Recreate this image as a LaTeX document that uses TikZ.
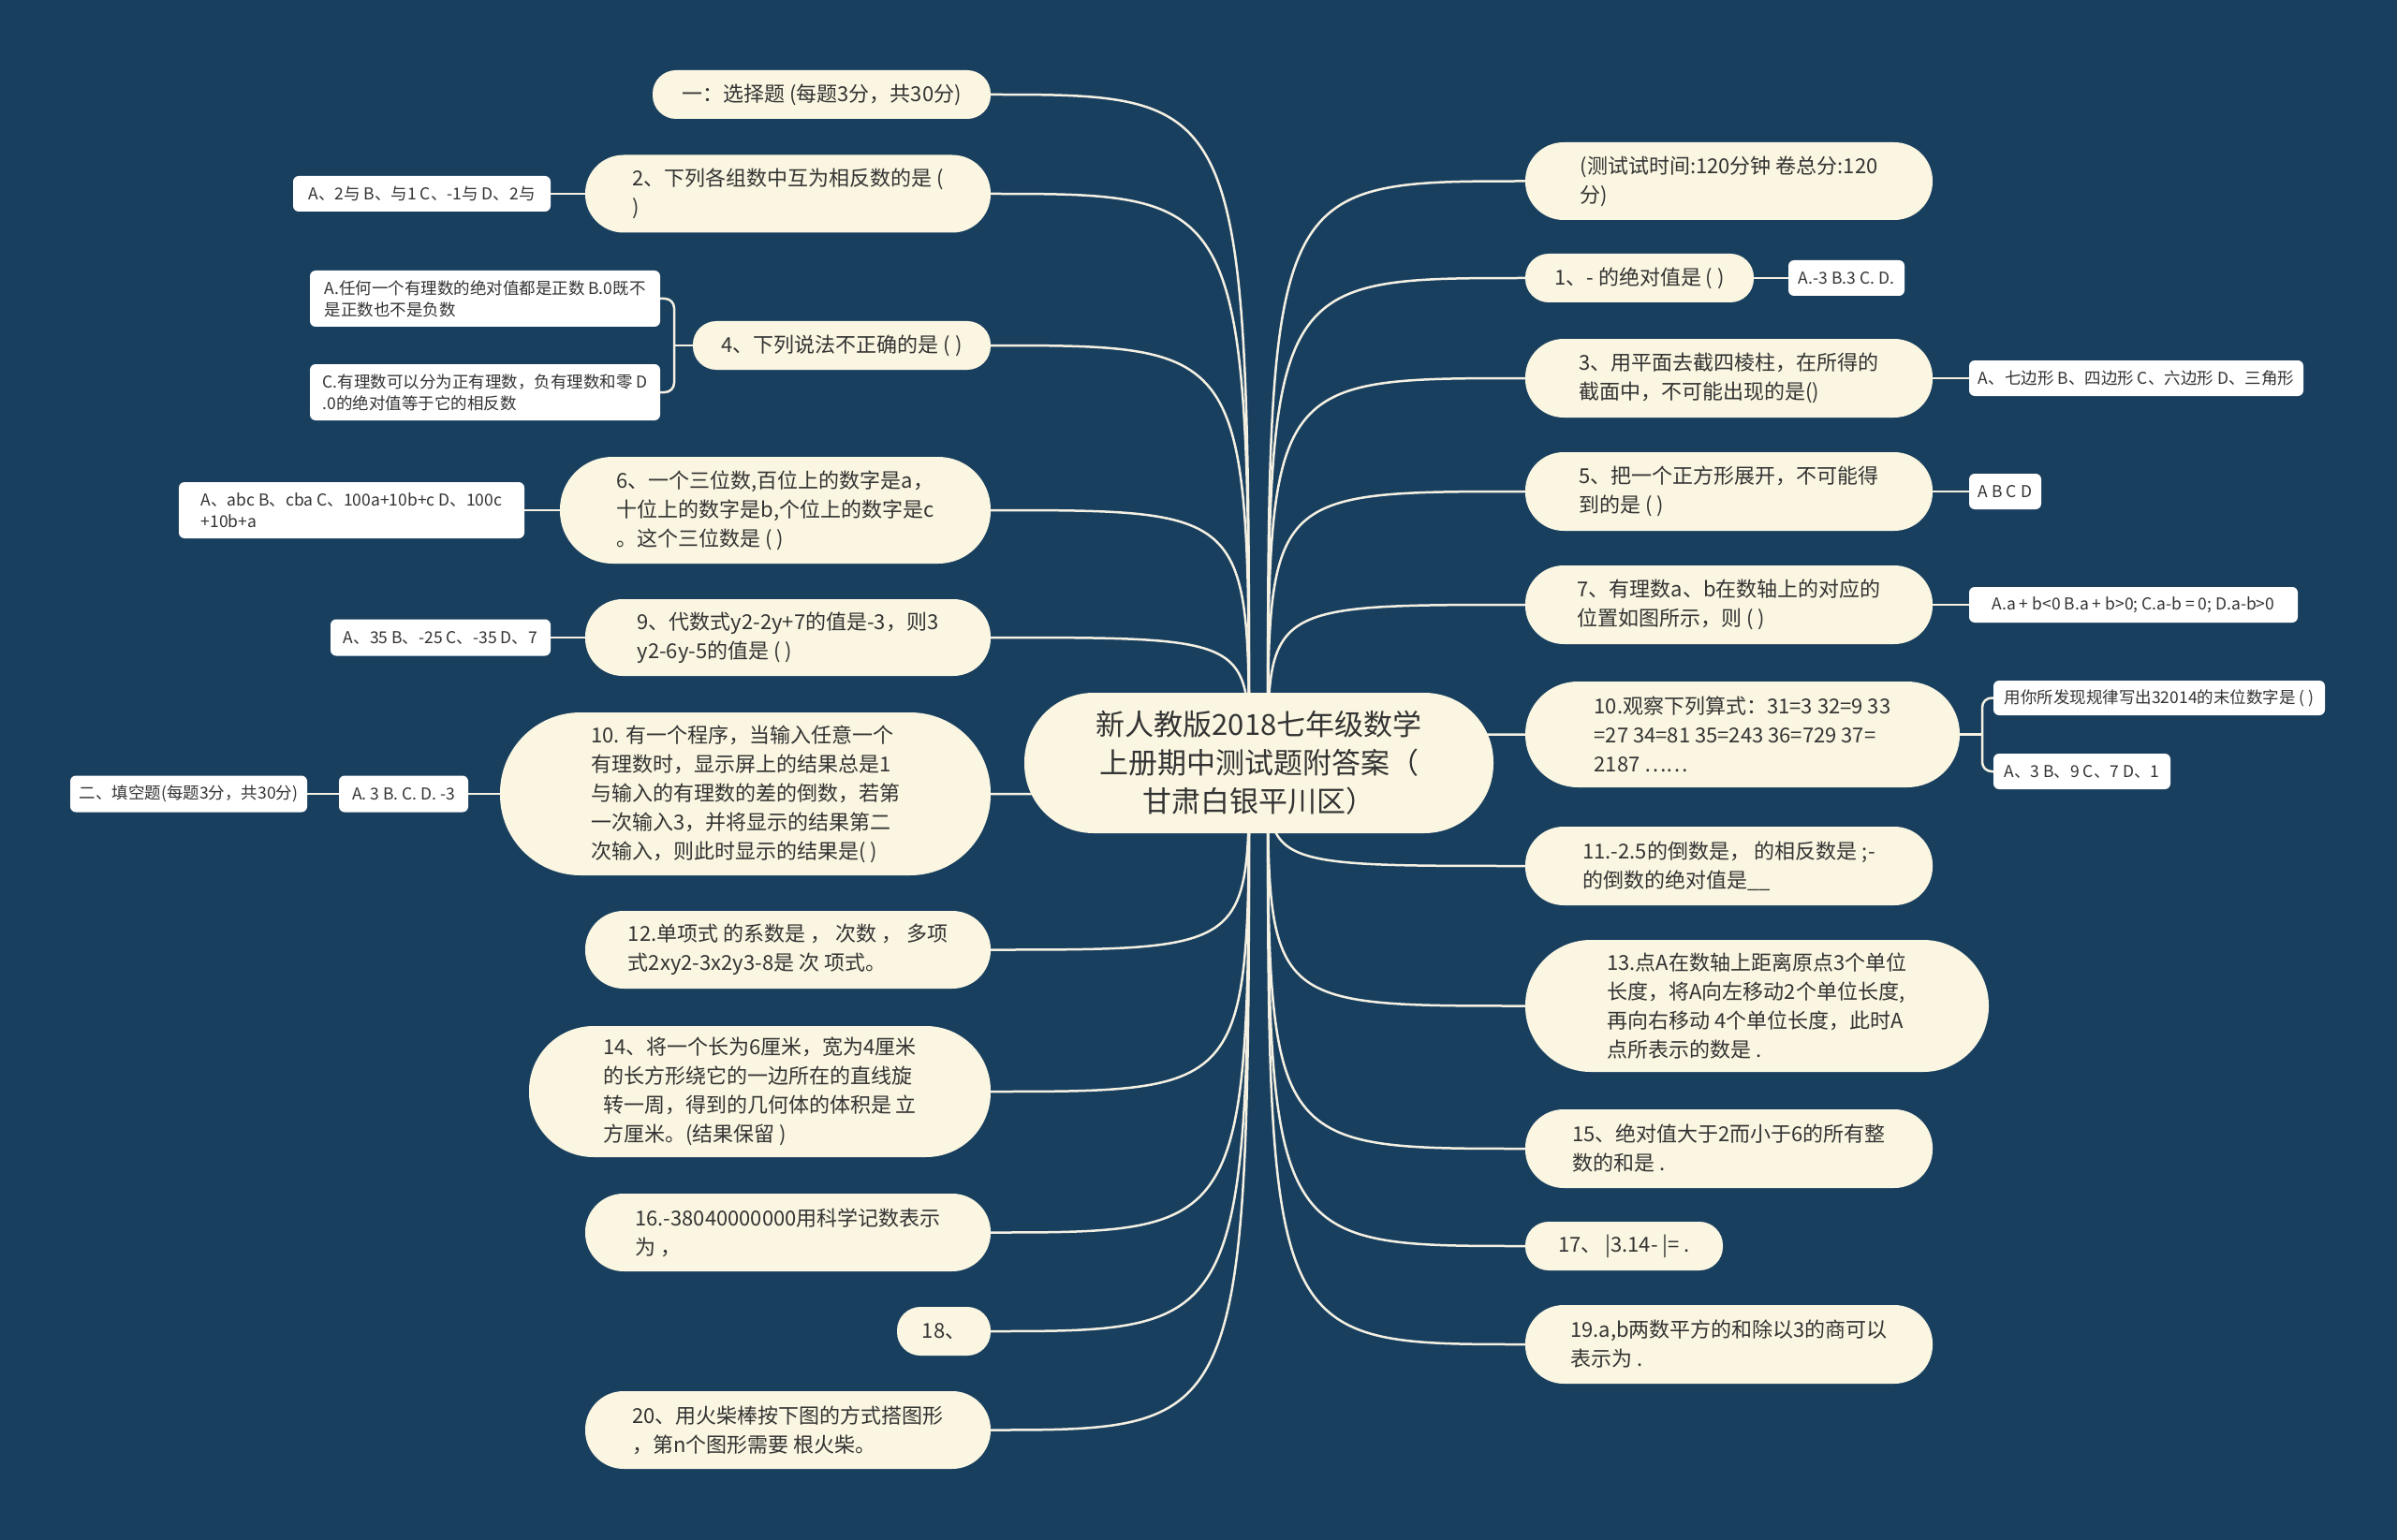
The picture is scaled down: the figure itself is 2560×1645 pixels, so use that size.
\documentclass[tikz,border=0pt]{standalone}
\usepackage{fontspec}
\setmainfont{Noto Sans CJK SC}
\usetikzlibrary{calc}
\definecolor{bgc}{HTML}{193F5F}
\definecolor{nodec}{HTML}{FAF6E1}
\definecolor{txtc}{HTML}{333333}
\definecolor{linec}{HTML}{F4F0E2}
\pgfdeclarelayer{back}
\pgfdeclarelayer{bg}
\pgfsetlayers{back,bg,main}
\tikzset{
  rootbox/.style={fill=nodec, text=txtc, align=center, inner sep=0pt, outer sep=0pt,
    font=\fontsize{31}{41}\selectfont, minimum width=501pt, minimum height=150pt, rounded corners=74pt},
  pri/.style={fill=nodec, text=txtc, align=left, inner sep=0pt, outer sep=0pt,
    font=\fontsize{22}{31}\selectfont},
  leaf/.style={fill=white, text=txtc, align=left, inner sep=0pt, outer sep=0pt,
    rounded corners=6pt, font=\fontsize{17.5}{23}\selectfont},
  conn/.style={draw=linec, line width=2.5pt},
}
\begin{document}
\begin{tikzpicture}[x=1pt,y=-1pt]
\begin{pgfonlayer}{back}
\fill[bgc] (0,0) rectangle (2560,1645);
\end{pgfonlayer}
\useasboundingbox (0,0) rectangle (2560,1645);

% root
\node[rootbox] (root) at (1344.5,815) {新人教版2018七年级数学\\上册期中测试题附答案（\\甘肃白银平川区）};
\coordinate (hubL) at (1334,815);
\coordinate (hubR) at (1354,815);

% left primary nodes
\node[pri, minimum width=361pt, minimum height=52pt, rounded corners=25pt] (L1) at (877.5,101) {一：选择题 (每题3分，共30分)};
\node[pri, minimum width=433pt, minimum height=83pt, rounded corners=41pt] (L2) at (841.5,207) {2、下列各组数中互为相反数的是 (\\)};
\node[pri, minimum width=318pt, minimum height=52pt, rounded corners=25pt] (L3) at (899,369) {4、下列说法不正确的是 ( )};
\node[pri, minimum width=460pt, minimum height=114pt, rounded corners=56pt] (L4) at (828,545) {6、一个三位数,百位上的数字是a，\\十位上的数字是b,个位上的数字是c\\。这个三位数是 ( )};
\node[pri, minimum width=433pt, minimum height=82pt, rounded corners=40pt] (L5) at (841.5,681) {9、代数式y2-2y+7的值是-3，则3\\y2-6y-5的值是 ( )};
\node[pri, minimum width=524pt, minimum height=174pt, rounded corners=86pt] (L6) at (796,848) {10. 有一个程序，当输入任意一个\\有理数时，显示屏上的结果总是1\\与输入的有理数的差的倒数，若第\\一次输入3，并将显示的结果第二\\次输入，则此时显示的结果是( )};
\node[pri, minimum width=433pt, minimum height=83pt, rounded corners=41pt] (L7) at (841.5,1014.5) {12.单项式 的系数是 ， 次数 ， 多项\\式2xy2-3x2y3-8是 次 项式。};
\node[pri, minimum width=493pt, minimum height=140pt, rounded corners=69pt] (L8) at (811.5,1166) {14、将一个长为6厘米，宽为4厘米\\的长方形绕它的一边所在的直线旋\\转一周，得到的几何体的体积是 立\\方厘米。(结果保留 )};
\node[pri, minimum width=433pt, minimum height=83pt, rounded corners=41pt] (L9) at (841.5,1316.5) {16.-38040000000用科学记数表示\\为 ，};
\node[pri, minimum width=100pt, minimum height=52pt, rounded corners=25pt] (L10) at (1008,1422) {18、};
\node[pri, minimum width=433pt, minimum height=83pt, rounded corners=41pt] (L11) at (841.5,1527.5) {20、用火柴棒按下图的方式搭图形\\，第n个图形需要 根火柴。};

% right primary nodes
\node[pri, minimum width=435pt, minimum height=83pt, rounded corners=41pt] (R1) at (1846.5,193.5) {(测试试时间:120分钟 卷总分:120\\分)};
\node[pri, minimum width=244pt, minimum height=52pt, rounded corners=25pt] (R2) at (1751,297) {1、- 的绝对值是 ( )};
\node[pri, minimum width=435pt, minimum height=84pt, rounded corners=41pt] (R3) at (1846.5,404) {3、用平面去截四棱柱，在所得的\\截面中，不可能出现的是()};
\node[pri, minimum width=435pt, minimum height=84pt, rounded corners=41pt] (R4) at (1846.5,525) {5、把一个正方形展开，不可能得\\到的是 ( )};
\node[pri, minimum width=435pt, minimum height=84pt, rounded corners=41pt] (R5) at (1846.5,646) {7、有理数a、b在数轴上的对应的\\位置如图所示，则 ( )};
\node[pri, minimum width=464pt, minimum height=113pt, rounded corners=56pt] (R6) at (1861,784.5) {10.观察下列算式：31=3 32=9 33\\=27 34=81 35=243 36=729 37=\\2187 ……};
\node[pri, minimum width=435pt, minimum height=84pt, rounded corners=41pt] (R7) at (1846.5,925) {11.-2.5的倒数是， 的相反数是 ;-\\的倒数的绝对值是\_\_};
\node[pri, minimum width=495pt, minimum height=141pt, rounded corners=70pt] (R8) at (1876.5,1074.5) {13.点A在数轴上距离原点3个单位\\长度，将A向左移动2个单位长度,\\再向右移动 4个单位长度，此时A\\点所表示的数是 .};
\node[pri, minimum width=435pt, minimum height=84pt, rounded corners=41pt] (R9) at (1846.5,1227) {15、绝对值大于2而小于6的所有整\\数的和是 .};
\node[pri, minimum width=211pt, minimum height=52pt, rounded corners=25pt] (R10) at (1734.5,1331) {17、\,|3.14- |= .};
\node[pri, minimum width=435pt, minimum height=84pt, rounded corners=41pt] (R11) at (1846.5,1436) {19.a,b两数平方的和除以3的商可以\\表示为 .};

% left leaves
\node[leaf, minimum width=275pt, minimum height=38pt] (LA2) at (450.5,207) {A、2与 B、与1 C、-1与 D、2与};
\node[leaf, minimum width=374pt, minimum height=60pt] (LA3a) at (518,319) {A.任何一个有理数的绝对值都是正数 B.0既不\\是正数也不是负数};
\node[leaf, minimum width=374pt, minimum height=60pt] (LA3b) at (518,419) {C.有理数可以分为正有理数，负有理数和零 D\\.0的绝对值等于它的相反数};
\node[leaf, minimum width=369pt, minimum height=60pt] (LA4) at (375.5,545) {A、abc B、cba C、100a+10b+c D、100c\\+10b+a};
\node[leaf, minimum width=235pt, minimum height=39pt] (LA5) at (470.5,681) {A、35 B、-25 C、-35 D、7};
\node[leaf, minimum width=138pt, minimum height=39pt] (LA6) at (431,848) {A. 3 B. C. D. -3};
\node[leaf, minimum width=253pt, minimum height=39pt] (LA6b) at (201.5,848) {二、填空题(每题3分，共30分)};

% right leaves
\node[leaf, minimum width=124pt, minimum height=38pt] (RA2) at (1972,297) {A.-3 B.3 C. D.};
\node[leaf, minimum width=357pt, minimum height=38pt] (RA3) at (2281.5,404) {A、七边形 B、四边形 C、六边形 D、三角形};
\node[leaf, minimum width=77pt, minimum height=38pt] (RA4) at (2141.5,525) {A B C D};
\node[leaf, minimum width=351pt, minimum height=38pt] (RA5) at (2278.5,646) {A.a + b<0 B.a + b>0; C.a-b = 0; D.a-b>0};
\node[leaf, minimum width=354pt, minimum height=37pt] (RA6a) at (2306,745.5) {用你所发现规律写出32014的末位数字是 ( )};
\node[leaf, minimum width=189pt, minimum height=38pt] (RA6b) at (2223.5,824) {A、3 B、9 C、7 D、1};

\coordinate (b3) at ($(L3.west)+(-20,0)$);
\coordinate (b6) at ($(R6.east)+(24,0)$);

\begin{pgfonlayer}{bg}
  \foreach \n in {L1,L2,L3,L4,L5,L6,L7,L8,L9,L10,L11}
    \draw[conn] (hubL) .. controls (hubL |- \n.east) .. (\n.east);
  \foreach \n in {R1,R2,R3,R4,R5,R6,R7,R8,R9,R10,R11}
    \draw[conn] (hubR) .. controls (hubR |- \n.west) .. (\n.west);
  \draw[conn] (L2.west) -- (LA2.east);
  \draw[conn] (L3.west) -- (b3);
  \draw[conn, rounded corners=10pt] (LA3a.east) -| (b3) |- (LA3b.east);
  \draw[conn] (L4.west) -- (LA4.east);
  \draw[conn] (L5.west) -- (LA5.east);
  \draw[conn] (L6.west) -- (LA6.east);
  \draw[conn] (LA6.west) -- (LA6b.east);
  \draw[conn] (R2.east) -- (RA2.west);
  \draw[conn] (R3.east) -- (RA3.west);
  \draw[conn] (R4.east) -- (RA4.west);
  \draw[conn] (R5.east) -- (RA5.west);
  \draw[conn] (R6.east) -- (b6);
  \draw[conn, rounded corners=10pt] (RA6a.west) -| (b6) |- (RA6b.west);
\end{pgfonlayer}
\end{tikzpicture}
\end{document}
